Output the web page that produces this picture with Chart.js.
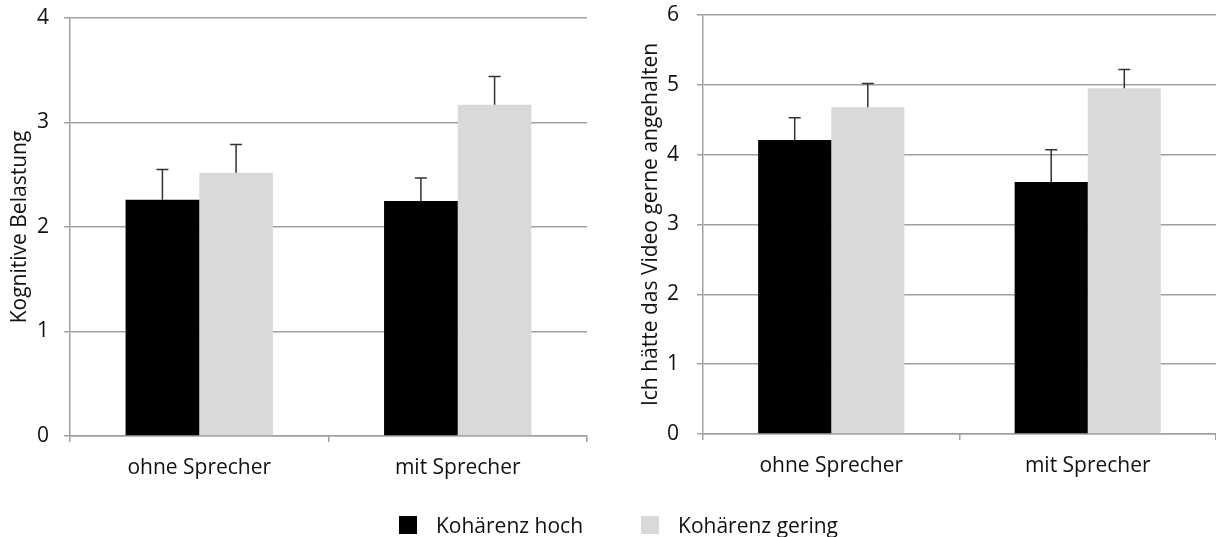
<!DOCTYPE html>
<html>
<head>
<meta charset="utf-8">
<script src="https://cdn.jsdelivr.net/npm/chart.js@4.4.1/dist/chart.umd.min.js"></script>
<style>
body { margin: 0; background: #fff; width: 1216px; height: 537px; overflow: hidden; position: relative; font-family: "Open Sans", sans-serif; }
#left { position: absolute; left: 0; top: 0; }
#right { position: absolute; left: 600px; top: 0; }
#legend { position: absolute; top: 513px; left: 399px; display: flex; gap: 58px; font-size: 21px; color: #111; }
.item { display: flex; align-items: center; height: 24px; }
.box { width: 18px; height: 18px; margin-right: 19px; }
</style>
</head>
<body>
<canvas id="left" width="600" height="537"></canvas>
<canvas id="right" width="616" height="537"></canvas>
<div id="legend"></div>

<script>
// data
var categories = ['ohne Sprecher', 'mit Sprecher'];
var seriesNames = ['Kohärenz hoch', 'Kohärenz gering'];
var seriesColors = ['#000000', '#d9d9d9'];

var belastungHoch = [2.26, 2.25];
var belastungHochErr = [0.29, 0.22];
var belastungGering = [2.52, 3.17];
var belastungGeringErr = [0.27, 0.27];

var angehaltenHoch = [4.21, 3.61];
var angehaltenHochErr = [0.32, 0.46];
var angehaltenGering = [4.68, 4.95];
var angehaltenGeringErr = [0.34, 0.27];

var belastungTicks = [0, 1, 2, 3, 4];
var angehaltenTicks = [0, 1, 2, 3, 4, 5, 6];

var gridColor = '#a0a0a0';
var fontSpec = { family: 'Open Sans', size: 21 };

// upper error bars with a small cap
var errorBars = {
    id: 'errorBars',
    afterDatasetsDraw: function(chart) {
        var ctx = chart.ctx;
        var y = chart.scales.y;
        ctx.save();
        ctx.strokeStyle = '#333';
        ctx.lineWidth = 1.5;
        chart.data.datasets.forEach(function(ds, i) {
            var meta = chart.getDatasetMeta(i);
            meta.data.forEach(function(bar, j) {
                var top = y.getPixelForValue(ds.data[j] + ds.errors[j]);
                ctx.beginPath();
                ctx.moveTo(bar.x, bar.y);
                ctx.lineTo(bar.x, top);
                ctx.moveTo(bar.x - 6, top);
                ctx.lineTo(bar.x + 6, top);
                ctx.stroke();
            });
        });
        ctx.restore();
    }
};

function makeChart(id, hoch, hochErr, gering, geringErr, ticks, title, opts) {
    var ctx = document.getElementById(id).getContext('2d');
    return new Chart(ctx, {
        type: 'bar',
        data: {
            labels: categories,
            datasets: [{
                label: seriesNames[0],
                data: hoch,
                errors: hochErr,
                backgroundColor: seriesColors[0]
            }, {
                label: seriesNames[1],
                data: gering,
                errors: geringErr,
                backgroundColor: seriesColors[1]
            }]
        },
        options: {
            responsive: false,
            animation: false,
            categoryPercentage: 0.57,
            barPercentage: 1.0,
            layout: { padding: { top: opts.top, right: opts.right, left: 0, bottom: 0 } },
            plugins: { legend: { display: false }, tooltip: { enabled: false } },
            scales: {
                x: {
                    afterFit: function(s) { s.height = opts.xHeight; },
                    grid: { offset: true, drawOnChartArea: false, color: gridColor, lineWidth: 1.5, tickLength: 6 },
                    border: { color: gridColor, width: 1.5 },
                    ticks: { color: '#111', padding: 13, font: fontSpec }
                },
                y: {
                    min: ticks[0],
                    max: ticks[ticks.length - 1],
                    afterFit: function(s) {
                        s.width = opts.yWidth;
                        // keep label padding from pushing the plot area down
                        s.paddingTop = 0;
                        s.paddingBottom = 0;
                    },
                    afterBuildTicks: function(s) { s.ticks = ticks.map(function(v) { return { value: v }; }); },
                    grid: { color: gridColor, lineWidth: 1.5, tickLength: 6 },
                    border: { color: gridColor, width: 1.5 },
                    ticks: { color: '#111', padding: opts.tickPad, font: fontSpec },
                    title: { display: true, text: title, color: '#111', padding: { top: opts.titlePad }, font: fontSpec }
                }
            }
        },
        plugins: [errorBars]
    });
}

makeChart('left', belastungHoch, belastungHochErr, belastungGering, belastungGeringErr,
    belastungTicks, 'Kognitive Belastung',
    { top: 18, right: 13, xHeight: 101, yWidth: 70, tickPad: 15, titlePad: 7 });

makeChart('right', angehaltenHoch, angehaltenHochErr, angehaltenGering, angehaltenGeringErr,
    angehaltenTicks, 'Ich hätte das Video gerne angehalten',
    { top: 15, right: 0, xHeight: 103, yWidth: 103, tickPad: 18, titlePad: 38 });

// legend built from the series
var legend = document.getElementById('legend');
seriesNames.forEach(function(name, i) {
    var item = document.createElement('div');
    item.className = 'item';
    var box = document.createElement('span');
    box.className = 'box';
    box.style.background = seriesColors[i];
    var txt = document.createElement('span');
    txt.textContent = name;
    item.appendChild(box);
    item.appendChild(txt);
    legend.appendChild(item);
});
</script>
</body>
</html>
